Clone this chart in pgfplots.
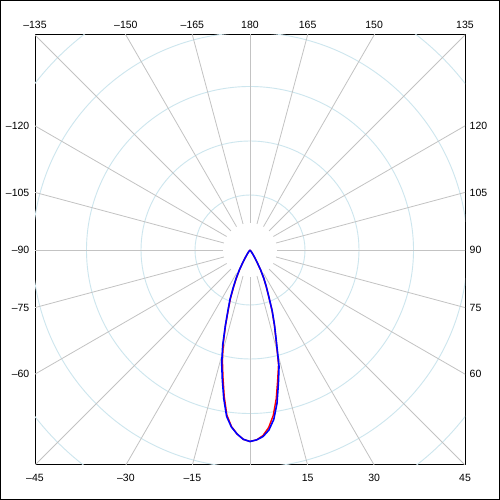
\documentclass[border=0pt]{standalone}
\usepackage{pgfplots}
\usepackage{pgfplotstable}
\pgfplotsset{compat=1.18}
\usepackage{fontspec}
\setmainfont{Liberation Sans}
\definecolor{gridblue}{RGB}{205,230,238}
\definecolor{gridgray}{RGB}{195,195,195}
\definecolor{curvered}{RGB}{255,0,0}
\definecolor{curveblue}{RGB}{0,0,255}

% theta: angle (0 = downwards), r: intensity (drawing units)
\pgfplotstableread{
theta r
-40 0
-36 3
-34 5
-32 8.5
-30 14.5
-28 23
-26 32
-24 41.5
-22 53.5
-20 64.5
-18 80
-16 99
-14 117
-12 133
-10 151
-8 168
-6 178
-4 184.5
-2 189.5
0 191.5
2 190
4 187
6 181
8 171
10 155.5
12 136.5
14 120
16 96
18 79.5
20 65
22 50
24 40
26 31.5
28 23
30 14
32 8.5
34 5
36 3
40 0
}\bluedata

\pgfplotstableread{
theta r
-40 0
-36 3
-34 5
-32 8
-30 14
-28 22
-26 30.5
-24 40
-22 52
-20 63.5
-18 79
-16 97
-14 114
-12 130
-10 148.5
-8 166.5
-6 177.5
-4 184.5
-2 189.5
0 191.5
2 190
4 186
6 178.5
8 167
10 151
12 133
14 118
16 95
18 79
20 64.5
22 49.5
24 39.5
26 31
28 22.5
30 14
32 8.5
34 5
36 3
40 0
}\reddata

\begin{document}
\begin{tikzpicture}[x=1pt,y=1pt]
\useasboundingbox (0,0) rectangle (500,500);
\fill[white] (0,0) rectangle (500,500);
\draw[line width=1pt,black] (0.5,0.5) rectangle (499.5,499.5);
\begin{axis}[
  at={(35pt,35pt)}, anchor=south west,
  width=430pt, height=430pt, scale only axis,
  xmin=-215, xmax=215, ymin=-215, ymax=215,
  xtick=\empty, ytick=\empty,
  axis line style={line width=1pt, black},
  clip=true,
]
\pgfplotsinvokeforeach{55,109,163.5,217.5,272}{
  \draw[gridblue, line width=0.9pt] (axis cs:0,0) circle[radius=#1pt];
}
\pgfplotsinvokeforeach{0,15,...,345}{
  \draw[gridgray, line width=0.8pt, shift={(axis cs:0,0)}] (#1:27pt) -- (#1:330pt);
}
\addplot[curvered, line width=1.4pt, data cs=polar, line join=round]
  table[x expr=\thisrow{theta}-90, y=r] {\reddata};
\addplot[curveblue, line width=1.6pt, data cs=polar, line join=round]
  table[x expr=\thisrow{theta}-90, y=r] {\bluedata};
\end{axis}
\begin{scope}[every node/.style={inner sep=0pt, font=\fontsize{10.5}{12}\selectfont}]
% top
\node at (35,474.7) {\textendash135};
\node at (125.9,474.7) {\textendash150};
\node at (192.4,474.7) {\textendash165};
\node at (250,474.7) {180};
\node at (307.6,474.7) {165};
\node at (374.1,474.7) {150};
\node at (465,474.7) {135};
% bottom
\node at (35,22) {\textendash45};
\node at (125.9,22) {\textendash30};
\node at (192.4,22) {\textendash15};
\node at (307.6,22) {15};
\node at (374.1,22) {30};
\node at (465,22) {45};
% left
\node[anchor=east] at (29.5,374.1) {\textendash120};
\node[anchor=east] at (29.5,307.6) {\textendash105};
\node[anchor=east] at (29.5,250) {\textendash90};
\node[anchor=east] at (29.5,192.4) {\textendash75};
\node[anchor=east] at (29.5,125.9) {\textendash60};
% right
\node[anchor=west] at (469.5,374.1) {120};
\node[anchor=west] at (469.5,307.6) {105};
\node[anchor=west] at (469.5,250) {90};
\node[anchor=west] at (469.5,192.4) {75};
\node[anchor=west] at (469.5,125.9) {60};
\end{scope}
\end{tikzpicture}
\end{document}
